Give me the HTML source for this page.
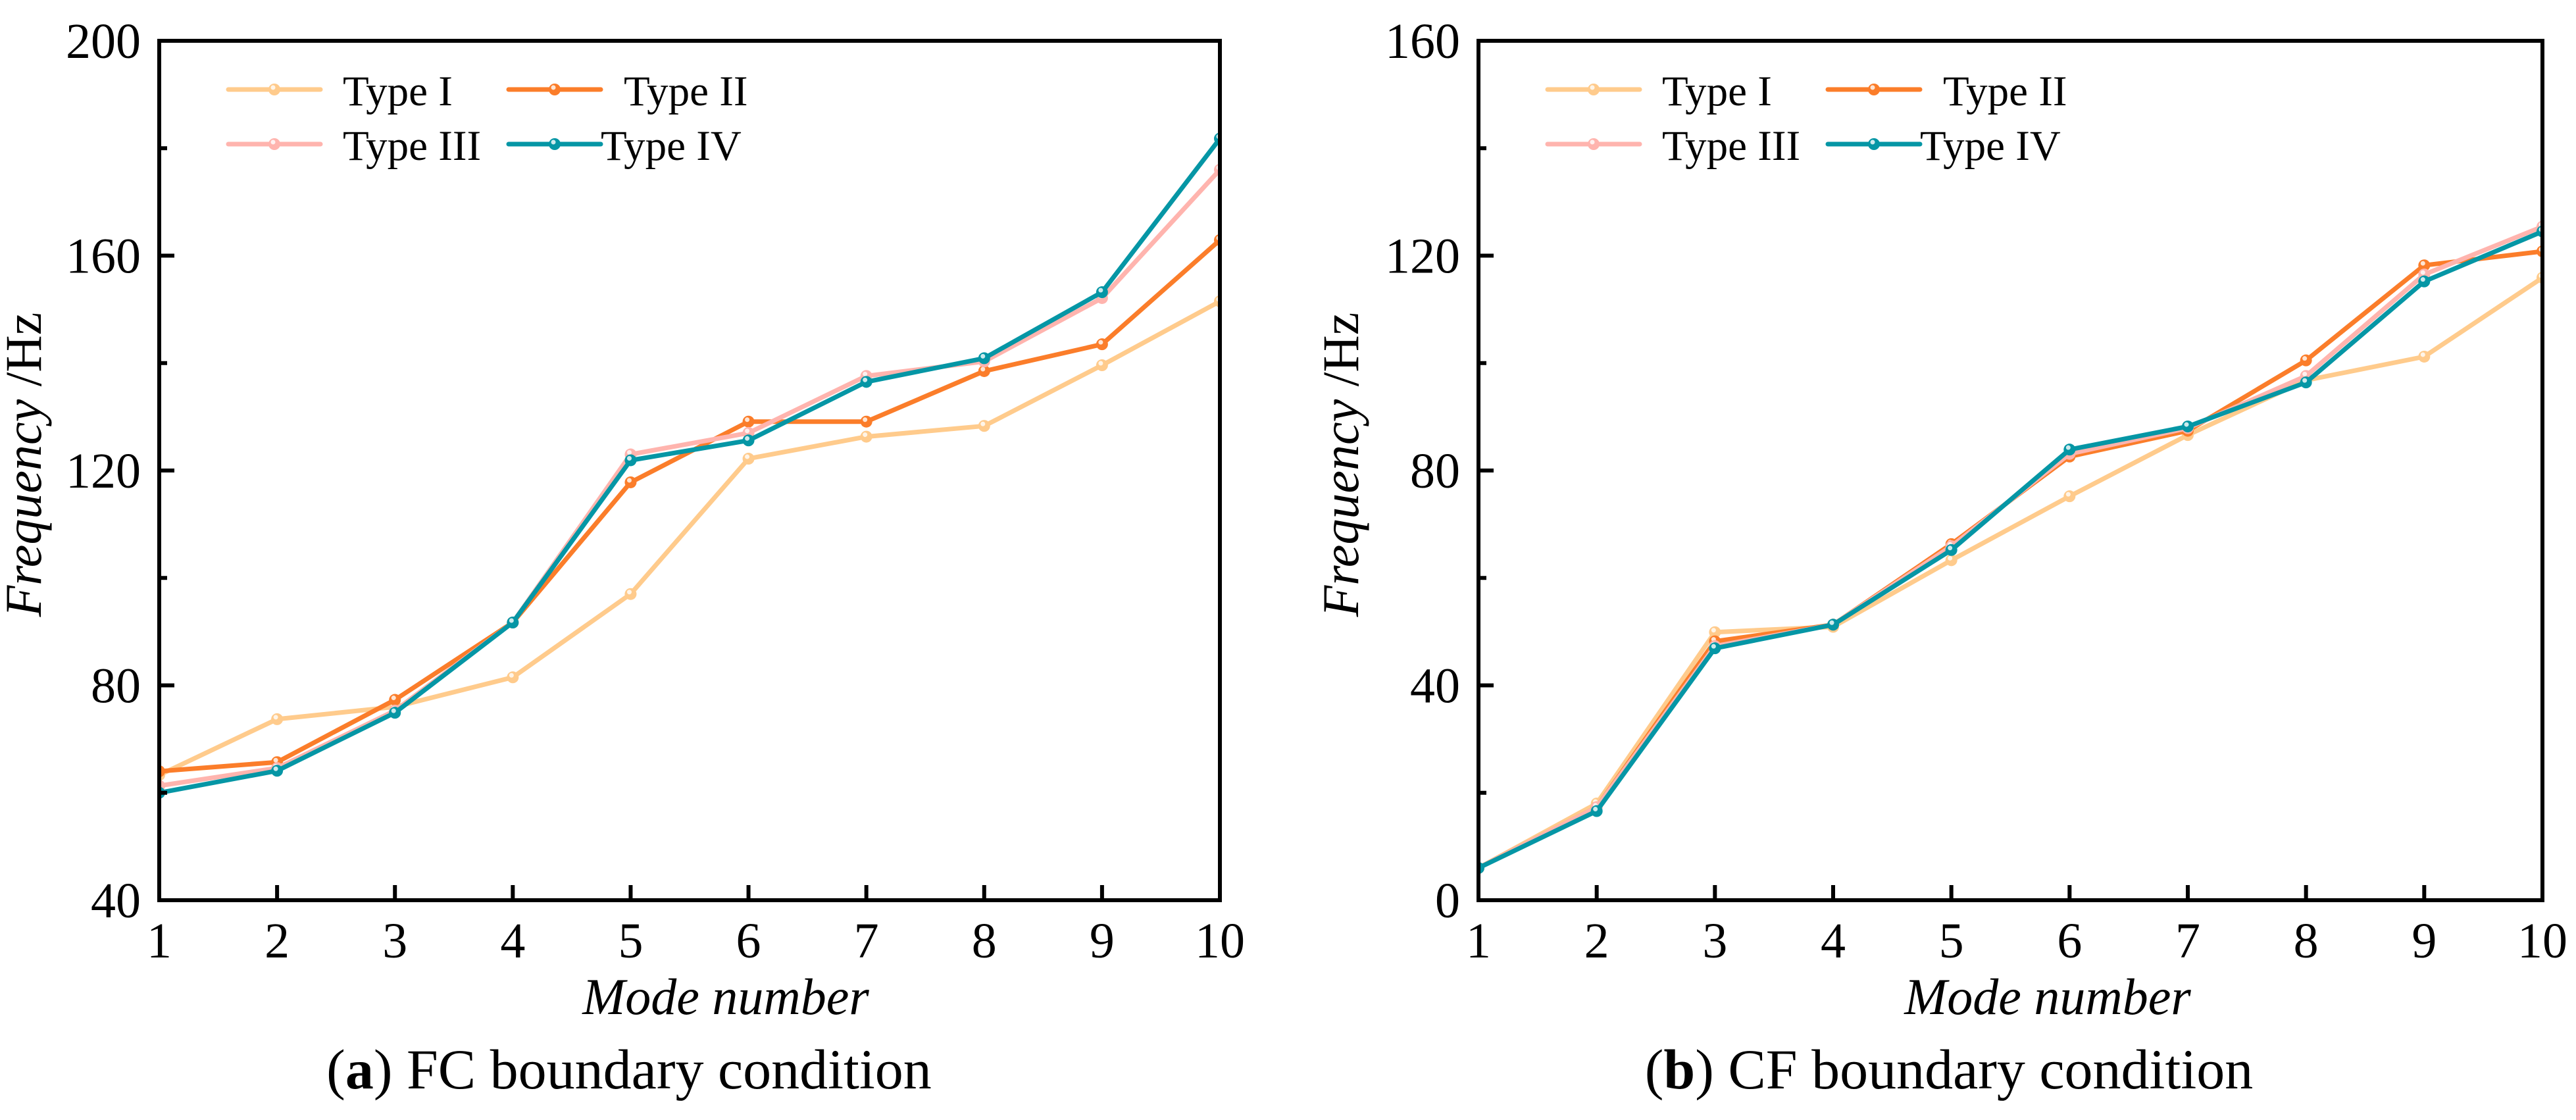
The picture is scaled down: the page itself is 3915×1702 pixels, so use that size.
<!DOCTYPE html>
<html><head><meta charset="utf-8">
<style>
html,body{margin:0;padding:0;background:#fff;}
svg{display:block;}
text{font-family:"Liberation Serif",serif;fill:#000;}
</style></head>
<body>
<svg id="fig" width="3915" height="1702" viewBox="0 0 3915 1702" xmlns="http://www.w3.org/2000/svg">
<defs>
<clipPath id="clipA"><rect x="242" y="62" width="1612" height="1306"/></clipPath>
<clipPath id="clipB"><rect x="2247" y="62" width="1617" height="1306"/></clipPath>
</defs>
</svg>
<script>
const modes = [1,2,3,4,5,6,7,8,9,10];
const seriesNames = ["Type I","Type II","Type III","Type IV"];
const seriesColors = ["#FFCB8C","#FB7D2A","#FFB4AE","#0596A5"];
// Panel (a) FC
const fcTypeI   = [63.3,73.7,76.0,81.5,97.0,122.2,126.3,128.3,139.6,151.5];
const fcTypeII  = [64.0,65.7,77.3,91.7,117.8,129.1,129.1,138.5,143.5,162.9];
const fcTypeIII = [61.3,64.6,75.3,91.7,123.0,127.0,137.6,140.3,152.1,176.0];
const fcTypeIV  = [60.0,64.1,74.9,91.7,121.9,125.6,136.5,140.9,153.2,181.8];
const fcTicks = [40,80,120,160,200];
// Panel (b) CF
const cfTypeI   = [6.0,18.0,49.9,50.9,63.3,75.2,86.6,96.8,101.2,115.9];
const cfTypeII  = [6.0,17.3,48.2,51.3,66.3,82.6,87.4,100.5,118.2,120.8];
const cfTypeIII = [6.0,17.3,47.3,51.3,65.9,83.1,87.9,97.6,116.5,125.4];
const cfTypeIV  = [6.0,16.6,46.9,51.3,65.2,83.9,88.2,96.4,115.2,124.5];
const cfTicks = [0,40,80,120,160];

const NS = "http://www.w3.org/2000/svg";
const svg = document.getElementById('fig');
function mk(tag, attrs, parent){
  const e = document.createElementNS(NS, tag);
  for (const k in attrs) e.setAttribute(k, attrs[k]);
  (parent||svg).appendChild(e);
  return e;
}

function panel(cfg){
  const g = mk('g', {});
  
  
  const X0=cfg.x0, X1=cfg.x1, Y0=62, Y1=1368;
  const ymin=cfg.ticks[0], ymax=cfg.ticks[cfg.ticks.length-1];
  const sx = v => X0 + (v-1)/(9)*(X1-X0);
  const sy = v => Y1 - (v-ymin)/(ymax-ymin)*(Y1-Y0);

  // series
  const sg = mk('g', {'clip-path':'url(#'+cfg.clip+')'}, g);
  cfg.series.forEach((vals, i) => {
    const pts = vals.map((v,j)=> sx(modes[j]).toFixed(1)+','+sy(v).toFixed(1)).join(' ');
    const pl = mk('polyline', {points:pts, fill:'none', stroke:seriesColors[i], 'stroke-width':7, 'stroke-linejoin':'round'}, sg);
    
    
    vals.forEach((v,j)=>{
      const c = mk('circle', {cx:sx(modes[j]), cy:sy(v), r:9, fill:seriesColors[i]}, sg);
      
      
      mk('circle', {cx:sx(modes[j])-2, cy:sy(v)-3, r:3.5, fill:'#fff', opacity:0.8}, sg);
    });
  });

  // frame
  const fr = mk('rect', {x:X0, y:Y0, width:X1-X0, height:Y1-Y0, fill:'none', stroke:'#000', 'stroke-width':6}, g);
  
  

  // x ticks
  modes.forEach(m=>{
    mk('line', {x1:sx(m), x2:sx(m), y1:Y1, y2:Y1-23, stroke:'#000','stroke-width':6}, g);
    const t = mk('text', {x:sx(m), y:1455, 'font-size':76, 'text-anchor':'middle'}, g);
    t.textContent = m;
    
    
  });
  // y ticks
  cfg.ticks.forEach((tv,k)=>{
    mk('line', {x1:X0, x2:X0+23, y1:sy(tv), y2:sy(tv), stroke:'#000','stroke-width':6}, g);
    if (k < cfg.ticks.length-1){
      const mid = (tv + cfg.ticks[k+1])/2;
      mk('line', {x1:X0, x2:X0+12, y1:sy(mid), y2:sy(mid), stroke:'#000','stroke-width':6}, g);
    }
    const t = mk('text', {x:X0-28, y:sy(tv)+26, 'font-size':76, 'text-anchor':'end'}, g);
    t.textContent = tv;
    
    
  });

  // axis titles
  const xt = mk('text', {x:cfg.xTitleX, y:1541, 'font-size':78, 'text-anchor':'middle', 'font-style':'italic'}, g);
  xt.textContent = 'Mode number';
  
  
  const yt = mk('text', {x:0, y:0, 'font-size':78, 'text-anchor':'middle', transform:'translate('+(cfg.yTitleX)+',706) rotate(-90)'}, g);
  yt.innerHTML = '<tspan font-style="italic">Frequency</tspan> /Hz';
  
  

  // caption
  const cap = mk('text', {x:cfg.capX, y:1654, 'font-size':86, 'text-anchor':'middle'}, g);
  cap.innerHTML = '(<tspan font-weight="bold">'+cfg.letter+'</tspan>) '+cfg.caption;
  
  

  // legend
  const lg = mk('g', {}, g);
  
  
  const off = X0 - 242;
  const pos = [[347,136,521],[773,136,948],[347,219,521],[773,219,913]];
  pos.forEach((p,i)=>{
    const e = mk('g', {}, lg);
    
    
    mk('line', {x1:p[0]+off, x2:p[0]+140+off, y1:p[1], y2:p[1], stroke:seriesColors[i], 'stroke-width':7, 'stroke-linecap':'round'}, e);
    mk('circle', {cx:p[0]+70+off, cy:p[1], r:9, fill:seriesColors[i]}, e);
    mk('circle', {cx:p[0]+68+off, cy:p[1]-3, r:3.5, fill:'#fff', opacity:0.8}, e);
    const t = mk('text', {x:p[2]+off, y:p[1]+24, 'font-size':65}, e);
    t.textContent = seriesNames[i];
  });
}

panel({name:'chart-fc', x0:242, x1:1854, clip:'clipA', ticks:fcTicks,
  series:[fcTypeI,fcTypeII,fcTypeIII,fcTypeIV], xTitleX:1103, yTitleX:62, capX:956,
  letter:'a', caption:'FC boundary condition'});
panel({name:'chart-cf', x0:2247, x1:3864, clip:'clipB', ticks:cfTicks,
  series:[cfTypeI,cfTypeII,cfTypeIII,cfTypeIV], xTitleX:3112, yTitleX:2064, capX:2962,
  letter:'b', caption:'CF boundary condition'});
</script>
</body></html>
